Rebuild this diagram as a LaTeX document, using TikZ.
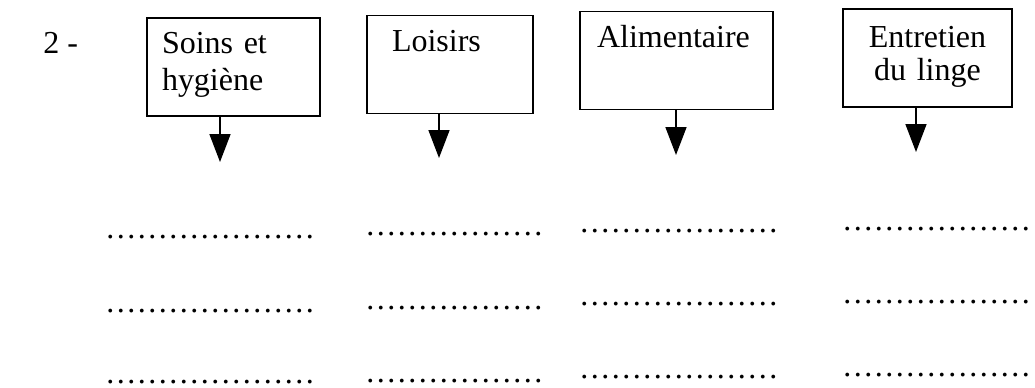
\documentclass[tikz,border=0pt]{standalone}
\usepackage{fontspec}
\setmainfont{Liberation Serif}
\usetikzlibrary{arrows.meta}

\newcommand{\dotrow}[1]{\foreach \k in {1,...,#1}{.\hspace{1.25pt}}}

\begin{document}
\begin{tikzpicture}[x=0.5pt,y=-0.5pt,
    box/.style={draw,line width=0.8pt,minimum height=49pt,inner ysep=0pt,
      font=\fontsize{16}{18.5}\selectfont},
    down/.style={line width=0.8pt,-{Triangle[length=14pt,width=10.5pt]}},
    blank/.style={anchor=base west,inner sep=0pt,font=\fontsize{16}{16}\selectfont}]
    \useasboundingbox (0,0) rectangle (1035,387);
    % Question number
    \node[anchor=base west,inner sep=0pt,font=\fontsize{16}{18.5}\selectfont] (num) at (43,53) {2 -};
    % Boxes
    \node[box,text width=71.5pt,inner xsep=7.5pt,align=left] (soins) at (233.5,67) {Soins et\\hygiène\strut};
    \node[box,text width=58pt,inner xsep=12.5pt,align=left] (loisirs) at (450,64.5) {Loisirs\\\strut};
    \node[box,text width=79.5pt,inner xsep=8.5pt,align=left] (alim) at (676.5,60.5) {Alimentaire\\\strut};
    \node[box,text width=74.5pt,inner xsep=5pt,align=center,
      font=\fontsize{16}{16.5}\selectfont] (linge) at (927.5,58) {Entretien\\du linge\strut};
    % Arrows below the boxes
    \coordinate (soinsend) at (220,162);
    \coordinate (loisirsend) at (439,158);
    \coordinate (alimend) at (676,155);
    \coordinate (lingeend) at (916,152);
    \draw[down] (soins.south -| soinsend) -- (soinsend);
    \draw[down] (loisirs.south -| loisirsend) -- (loisirsend);
    \draw[down] (alim.south -| alimend) -- (alimend);
    \draw[down] (linge.south -| lingeend) -- (lingeend);
    % Lines of dots to fill in
    \foreach \col/\x/\n/\ya/\yb/\yc in {1/106/20/238/312/383, 2/366/17/235/309/382,
        3/580/19/232/305/378, 4/843/18/230/303/376}{
      \node[blank] (blank\col a) at (\x,\ya) {\dotrow{\n}};
      \node[blank] (blank\col b) at (\x,\yb) {\dotrow{\n}};
      \node[blank] (blank\col c) at (\x,\yc) {\dotrow{\n}};
    }
\end{tikzpicture}
\end{document}
